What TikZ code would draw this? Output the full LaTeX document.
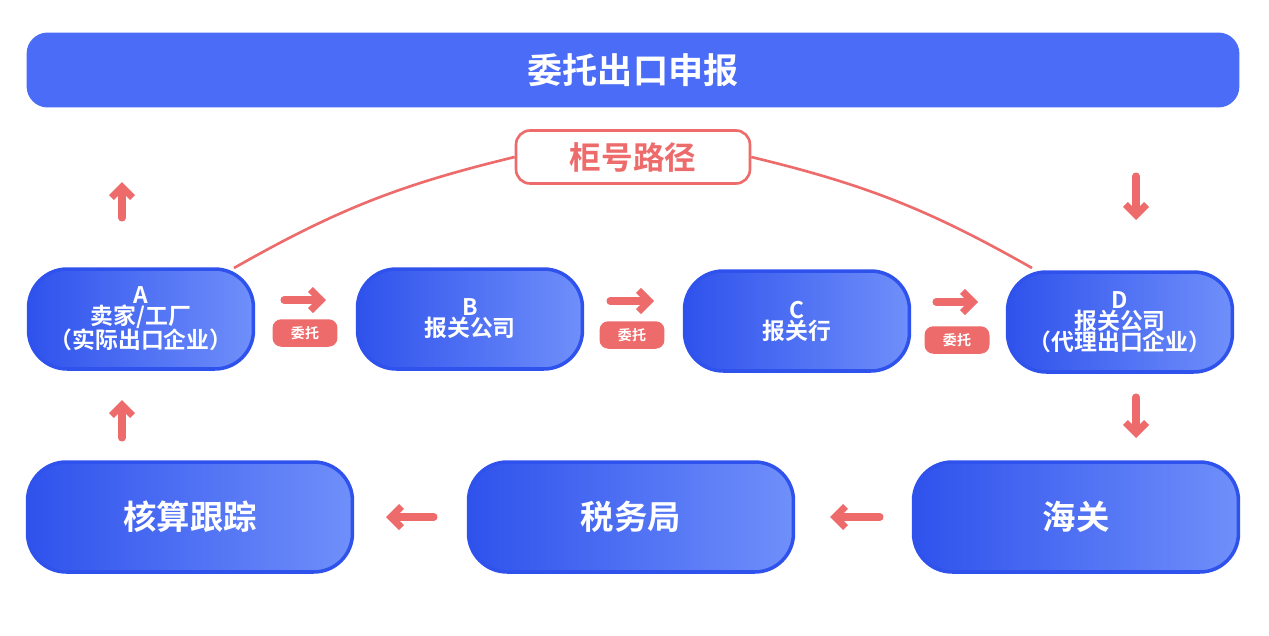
\documentclass[tikz,border=0pt]{standalone}
\usepackage{fontspec}
\newfontfamily\cjk{Noto Sans CJK SC Bold}
\usetikzlibrary{arrows.meta, positioning, calc}
\definecolor{mainblue}{HTML}{4A6CF6}
\definecolor{deepblue}{HTML}{2F52EC}
\definecolor{lightblue}{HTML}{6F8FFA}
\definecolor{tagred}{HTML}{EE6B6B}

\begin{document}
\begin{tikzpicture}[x=0.02cm, y=-0.02cm,
    pill/.style={rounded corners=22pt, draw=deepblue, line width=2pt, left color=deepblue, right color=lightblue, text=white, font=\cjk, align=center, inner sep=0pt},
    small/.style={pill, minimum width=4.5cm, minimum height=2cm, font=\cjk\fontsize{13}{13}\selectfont},
    big/.style={pill, minimum width=6.5cm, minimum height=2.2cm, font=\cjk\fontsize{19}{19}\selectfont},
    tag/.style={fill=tagred, text=white, rounded corners=5pt, font=\cjk\fontsize{8}{8}\selectfont, minimum width=1.3cm, minimum height=0.55cm, inner sep=0pt},
    arrow/.style={-{Straight Barb[length=6pt, width=12pt, line width=4pt]}, line width=4pt, tagred, line cap=round}]

    % Frame
    \useasboundingbox (0,0) rectangle (1269,636);

    % Title
    \node[fill=mainblue, rounded corners=12pt, minimum width=24.26cm, minimum height=1.5cm, text=white, font=\cjk\fontsize{20}{20}\selectfont] (title) at (633,70) {委托出口申报};
    \node[draw=tagred, line width=1.5pt, fill=white, rounded corners=8pt, minimum width=4.68cm, minimum height=1.06cm, text=tagred, font=\cjk\fontsize{18}{18}\selectfont] (path) at (633,157) {柜号路径};

    % Nodes
    \node[small] (a) at (141,319) {A\\[-1pt]卖家/工厂\\[-1pt]（实际出口企业）};
    \node[small] (b) at (470,319) {B\\[-1pt]报关公司};
    \node[small] (c) at (797,321) {C\\[-1pt]报关行};
    \node[small] (d) at (1120,322) {D\\[-1pt]报关公司\\[-1pt]（代理出口企业）};
    \node[big] (track) at (190,517) {核算跟踪};
    \node[big] (tax) at (631,517) {税务局};
    \node[big] (customs) at (1076,517) {海关};

    % Route line
    \draw[tagred, line width=1.5pt] (234,268) to[bend left=8] (path.west);
    \draw[tagred, line width=1.5pt] (path.east) to[bend left=8] (1032,268);

    % Tags
    \node[tag] (t1) at (305,333) {委托};
    \node[tag] (t2) at (632,335) {委托};
    \node[tag] (t3) at (957,340) {委托};

    % Arrows
    \draw[arrow] (284,300) -- (326,300);
    \draw[arrow] (610,301) -- (654,301);
    \draw[arrow] (936,302) -- (978,302);
    \draw[arrow] (122,218) -- (122,182);
    \draw[arrow] (122,438) -- (122,400);
    \draw[arrow] (1136,176) -- (1136,220);
    \draw[arrow] (1136,397) -- (1136,438);
    \draw[arrow] (434,517) -- (386,517);
    \draw[arrow] (880,517) -- (830,517);
\end{tikzpicture}
\end{document}
